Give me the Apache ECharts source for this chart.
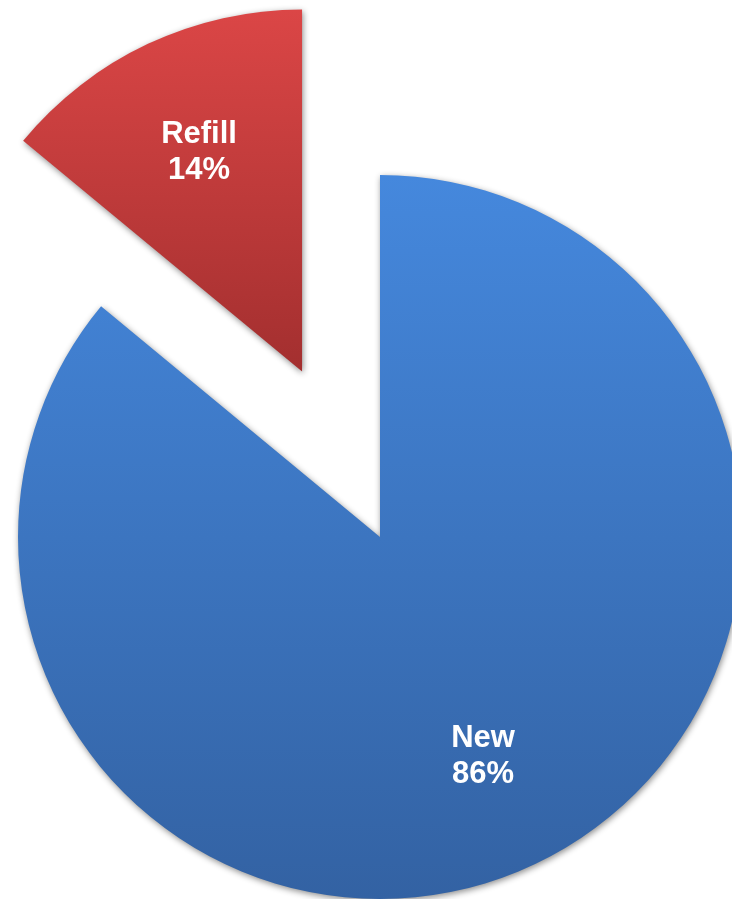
<!DOCTYPE html>
<html>
<head>
<meta charset="utf-8">
<style>
  html, body { margin: 0; padding: 0; background: #ffffff; }
  #chart { width: 732px; height: 899px; }
</style>
<script src="https://cdn.jsdelivr.net/npm/echarts@6/dist/echarts.min.js"></script>
</head>
<body>
<div id="chart"></div>
<script>
const categories = ['New', 'Refill'];
const values = [86, 14];
const explodedCategory = 'Refill';

const topColors = ['#4588dd', '#db4646'];
const bottomColors = ['#3362a3', '#a32f2f'];

function grad(i) {
  return new echarts.graphic.LinearGradient(0, 0, 0, 1, [
    { offset: 0, color: topColors[i] },
    { offset: 1, color: bottomColors[i] }
  ]);
}

const pieData = categories.map((c, i) => ({
  name: c,
  value: values[i],
  selected: c === explodedCategory,
  itemStyle: { color: grad(i) }
}));

const labelData = categories.map((c, i) => ({
  name: c,
  value: values[i],
  selected: c === explodedCategory
}));

const chart = echarts.init(document.getElementById('chart'), null, { renderer: 'canvas' });
chart.setOption({
  animation: false,
  series: [
    {
      type: 'pie',
      center: [380, 537],
      radius: [0, 362],
      startAngle: 90,
      clockwise: true,
      selectedMode: 'single',
      selectedOffset: 183,
      silent: true,
      emphasis: { disabled: true },
      itemStyle: {
        shadowColor: 'rgba(0,0,0,0.45)',
        shadowBlur: 6,
        shadowOffsetX: 1,
        shadowOffsetY: 2,
        borderWidth: 0
      },
      label: { show: false },
      labelLine: { show: false },
      data: pieData
    },
    {
      type: 'pie',
      center: [380, 537],
      radius: [116, 362],
      startAngle: 90,
      clockwise: true,
      selectedMode: 'single',
      selectedOffset: 183,
      silent: true,
      avoidLabelOverlap: false,
      emphasis: { disabled: true },
      itemStyle: { color: 'rgba(0,0,0,0)', borderWidth: 0 },
      label: {
        show: true,
        position: 'inside',
        formatter: '{b}\n{d}%',
        color: '#ffffff',
        fontFamily: 'Liberation Sans, Arial, sans-serif',
        fontWeight: 'bold',
        fontSize: 31,
        lineHeight: 36,
        align: 'center'
      },
      labelLine: { show: false },
      data: labelData
    }
  ]
});
</script>
</body>
</html>
